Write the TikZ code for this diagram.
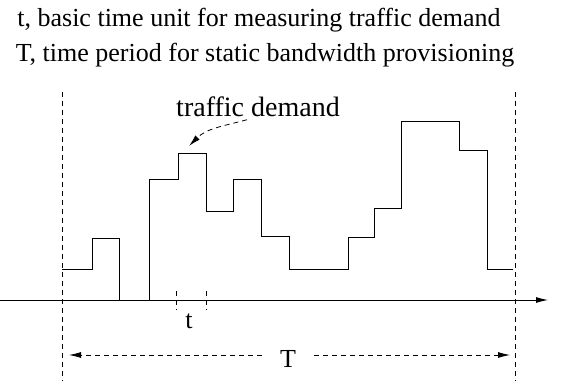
\documentclass[tikz,border=0pt]{standalone}
\usepackage{fontspec}
\setmainfont{Liberation Serif}
\usetikzlibrary{arrows.meta}
\begin{document}
\begin{tikzpicture}
[x=1pt,y=1pt,line width=0.9pt,%
  every node/.style={font=\rmfamily\fontsize{26}{30}\selectfont,inner sep=2pt},%
  gap/.style={dash pattern=on 5pt off 4pt,line width=0.8pt},%
  tip/.style={-{Latex[length=12pt,width=6pt]}}]
\useasboundingbox (0,0) rectangle (563,381);
\node[anchor=base] (unit) at (259,354) {t, basic time unit for measuring traffic demand};
\node[anchor=base] (period) at (265,319) {T, time period for static bandwidth provisioning};
\coordinate (origin) at (0,81);
\coordinate (end) at (548,81);
\draw[tip] (origin) -- (end);
\draw[gap] (62,289) -- (62,0);
\draw[gap] (515,289) -- (515,0);
\draw (62,112) -| (92,143) -| (119,81) -| (149,202) -| (178,228) -| (206,170)
  -| (233,202) -| (261,145) -| (289,112) -| (348,144) -| (374,173) -| (401,260)
  -| (459,231) -| (487,112) -- (513,112);
\draw[gap] (176,90) -- (176,71);
\draw[gap] (206,90) -- (206,71);
\node[anchor=base] (t) at (189,53) {t};
\node[anchor=base,inner xsep=18pt] (T) at (288,14) {T};
\coordinate (Tl) at (69,26);
\coordinate (Tr) at (510,26);
\draw[gap,tip] (T.west |- Tl) -- (Tl);
\draw[gap,tip] (T.east |- Tr) -- (Tr);
\node[anchor=base,font=\rmfamily\fontsize{28}{32}\selectfont] (demand) at (258,264) {traffic demand};
\coordinate (peak) at (189,235);
\draw[gap,tip] ([xshift=-11pt]demand.south) to[out=195,in=45] (peak);
\end{tikzpicture}
\end{document}
